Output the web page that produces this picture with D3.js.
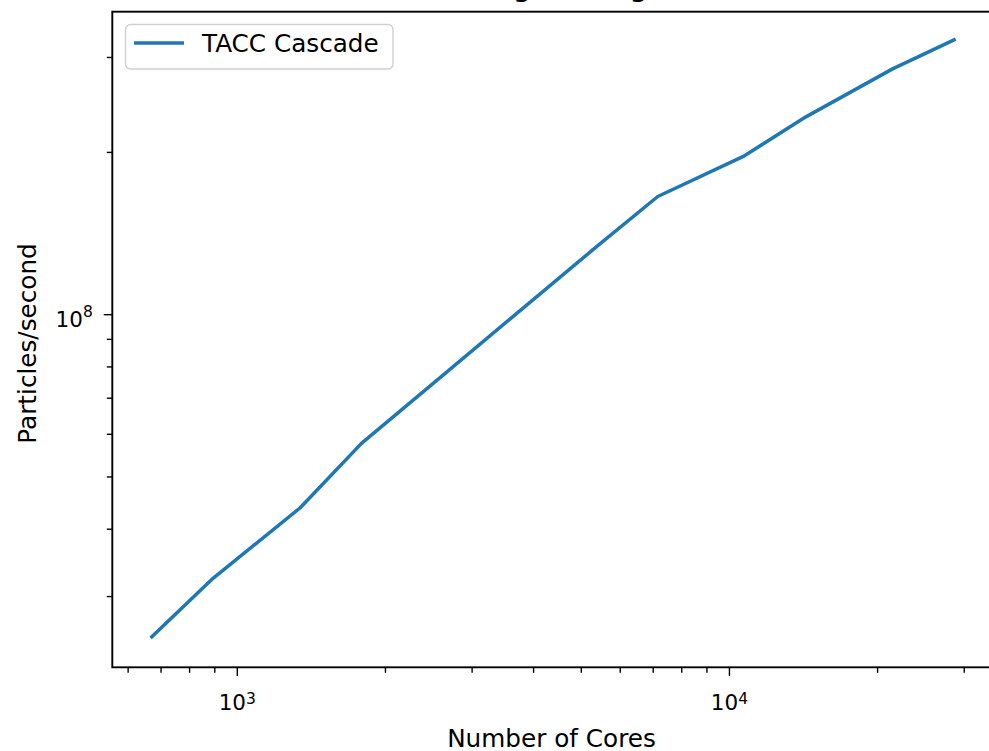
<!DOCTYPE html>
<html>
<head>
<meta charset="utf-8">
<script src="https://cdn.jsdelivr.net/npm/d3@7"></script>
<style>
  html, body { margin: 0; padding: 0; background: #fff; }
  svg { display: block; }
  text { font-family: "DejaVu Sans", sans-serif; fill: #000; }
</style>
</head>
<body>
<svg id="chart" width="989" height="751"></svg>
<script>
// ---- data ----
const cores = [672, 896, 1344, 1792, 2688, 3584, 5376, 7168, 10752, 14336, 21504, 28672];
const particlesPerSecond = [2.52e7, 3.24e7, 4.37e7, 5.76e7, 7.85e7, 9.78e7, 1.333e8, 1.653e8, 1.967e8, 2.323e8, 2.851e8, 3.228e8];
const seriesName = "TACC Cascade";
const titleText = "Strong Scaling";
const xLabel = "Number of Cores";
const yLabel = "Particles/second";
const xMajorTicks = [1e3, 1e4];
const xMajorExp = ["3", "4"];
const xMinorTicks = [600, 700, 800, 900, 2000, 3000, 4000, 5000, 6000, 7000, 8000, 9000, 20000, 30000];
const yMajorTicks = [1e8];
const yMajorExp = ["8"];
const yMinorTicks = [3e7, 4e7, 5e7, 6e7, 7e7, 8e7, 9e7, 2e8, 3e8];
const xDomain = [558.5, 34400];
const yDomain = [2.213e7, 3.64e8];

(function () {
  // ---- layout ----
  const pLeft = 112.3, pRight = 993, pTop = 11.7, pBottom = 667.3;
  const svg = d3.select("#chart");

  const x = d3.scaleLog().domain(xDomain).range([pLeft, pRight]);
  const y = d3.scaleLog().domain(yDomain).range([pBottom, pTop]);

  // title (cut off at top)
  svg.append("text")
    .attr("x", 541).attr("y", -4)
    .attr("text-anchor", "middle")
    .style("font-size", "29.6px")
    .text(titleText);

  // data line
  const line = d3.line().x(d => x(d[0])).y(d => y(d[1]));
  svg.append("path")
    .datum(cores.map((c, i) => [c, particlesPerSecond[i]]))
    .attr("fill", "none")
    .attr("stroke", "#1f77b4")
    .attr("stroke-width", 3.5)
    .attr("stroke-linejoin", "round")
    .attr("stroke-linecap", "square")
    .attr("d", line);

  function styleAxis(g) {
    g.select(".domain").remove();
    g.selectAll(".tick line").attr("stroke", "#000").attr("stroke-width", 1.4);
  }

  // x minor
  svg.append("g").attr("transform", `translate(0,${pBottom})`)
    .call(d3.axisBottom(x).tickValues(xMinorTicks).tickSize(5.5).tickFormat(() => ""))
    .call(styleAxis);
  // x major
  const gxM = svg.append("g").attr("transform", `translate(0,${pBottom})`)
    .call(d3.axisBottom(x).tickValues(xMajorTicks).tickSize(8.6).tickFormat(() => ""))
    .call(styleAxis);
  gxM.selectAll(".tick text").each(function (d, i) {
    const t = d3.select(this);
    t.attr("y", 43).attr("dy", null)
      .attr("text-anchor", "middle")
      .style("font-size", "21.5px")
      .style("font-family", "DejaVu Sans, sans-serif")
      .attr("fill", "#000");
    t.append("tspan").text("10");
    t.append("tspan").attr("dy", -6.7).style("font-size", "15.5px").text(xMajorExp[i]);
  });

  // y minor
  svg.append("g").attr("transform", `translate(${pLeft},0)`)
    .call(d3.axisLeft(y).tickValues(yMinorTicks).tickSize(5.5).tickFormat(() => ""))
    .call(styleAxis);
  // y major
  const gyM = svg.append("g").attr("transform", `translate(${pLeft},0)`)
    .call(d3.axisLeft(y).tickValues(yMajorTicks).tickSize(8.6).tickFormat(() => ""))
    .call(styleAxis);
  gyM.selectAll(".tick text").each(function (d, i) {
    const t = d3.select(this);
    t.attr("x", -19.5).attr("dy", null).attr("y", 12)
      .attr("text-anchor", "end")
      .style("font-size", "21.5px")
      .style("font-family", "DejaVu Sans, sans-serif")
      .attr("fill", "#000");
    t.append("tspan").text("10");
    t.append("tspan").attr("dy", -9.5).style("font-size", "15.5px").text(yMajorExp[i]);
  });

  // spines
  svg.append("rect")
    .attr("x", pLeft).attr("y", pTop)
    .attr("width", pRight - pLeft).attr("height", pBottom - pTop)
    .attr("fill", "none").attr("stroke", "#000").attr("stroke-width", 1.9);

  // axis labels
  svg.append("text")
    .attr("x", 551.5).attr("y", 747)
    .attr("text-anchor", "middle")
    .style("font-size", "24.7px")
    .text(xLabel);
  svg.append("text")
    .attr("transform", "translate(35.5,343.5) rotate(-90)")
    .attr("text-anchor", "middle")
    .style("font-size", "24.7px")
    .text(yLabel);

  // legend
  const lg = svg.append("g");
  lg.append("rect")
    .attr("x", 125.5).attr("y", 24.5).attr("width", 267.5).attr("height", 44.5)
    .attr("rx", 5).attr("ry", 5)
    .attr("fill", "#fff").attr("fill-opacity", 0.8)
    .attr("stroke", "#d0d0d0").attr("stroke-width", 1.4);
  lg.append("line")
    .attr("x1", 134).attr("x2", 184).attr("y1", 43).attr("y2", 43)
    .attr("stroke", "#1f77b4").attr("stroke-width", 3.5);
  lg.append("text")
    .attr("x", 202).attr("y", 51.7)
    .style("font-size", "24.7px")
    .text(seriesName);
})();
</script>
</body>
</html>
